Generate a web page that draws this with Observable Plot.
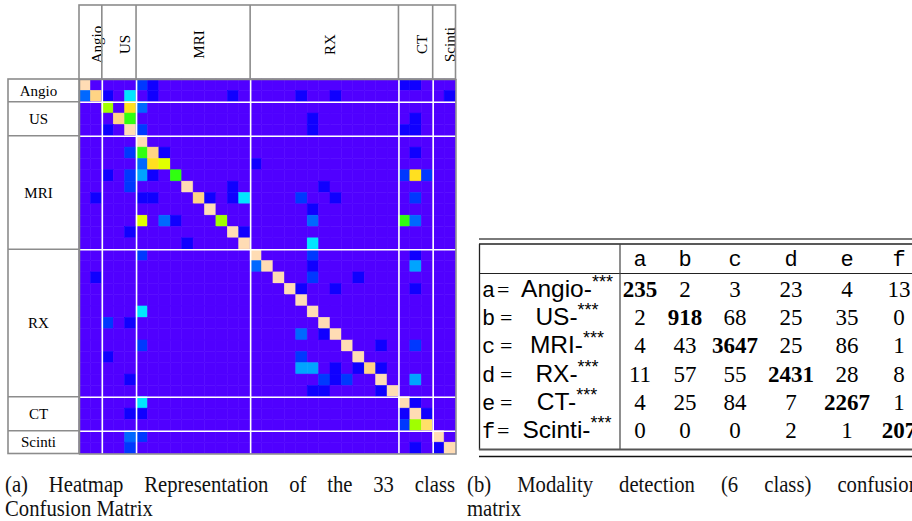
<!DOCTYPE html>
<html><head><meta charset="utf-8">
<script src="https://cdn.jsdelivr.net/npm/d3@7"></script>
<script src="https://cdn.jsdelivr.net/npm/@observablehq/plot@0.6"></script>
<style>
html,body{margin:0;padding:0;background:#fff;}
#fig{position:relative;width:912px;height:521px;overflow:hidden;}
</style></head><body><div id="fig"></div>
<script>
// ---- data ----
const groups = ["Angio","US","MRI","RX","CT","Scinti"];
const groupSizes = [2,3,10,13,3,2];
const levels = [0,1,2,3,4,5,6,7,7.5,8,8.5,9,10];
const levelColors = ["#5000ff","#1000ff","#0038ff","#0068ff","#00a4ff","#00e6ff","#30ff10","#a0ff00","#e0ff00","#ffe020","#ffe068","#ffd484","#ffdcb4"];
// [row, col, level] for non-background cells of the 33x33 heatmap
const cells = [
[0,0,10],[0,5,2],[0,6,1],[0,28,1],[0,29,1],
[1,0,3],[1,1,9],[1,2,1],[1,4,5],[1,6,1],[1,13,1],[1,19,1],[1,22,1],[1,32,1],
[2,2,7],[2,4,8],[2,5,3],
[3,3,9],[3,4,6],[3,20,1],[3,29,1],
[4,2,1],[4,4,10],[4,5,2],[4,20,1],[4,28,1],[4,29,1],
[5,5,10],
[6,4,2],[6,5,6],[6,6,9],[6,7,1],[6,29,1],
[7,5,3],[7,6,8],[7,7,7.5],[7,15,1],
[8,2,1],[8,4,2],[8,5,4],[8,6,1],[8,8,6],[8,28,2],[8,29,8],[8,30,2],
[9,4,2],[9,9,10],[9,13,1],[9,21,1],
[10,1,1],[10,5,1],[10,6,1],[10,10,9],[10,11,1],[10,13,1],[10,14,5],[10,19,2],[10,22,1],[10,29,2],
[11,11,10],[11,20,1],
[12,5,7.5],[12,7,3],[12,8,1],[12,12,7],[12,20,3],[12,28,6],[12,29,3],
[13,4,1],[13,13,10],[13,14,1],
[14,9,1],[14,14,10],[14,20,5],
[15,5,2],[15,15,10],[15,20,2],[15,29,1],
[16,15,3],[16,16,10],[16,20,1],[16,29,4],
[17,1,1],[17,17,10],[17,20,2],[17,24,1],
[18,18,10],[18,19,1],[18,22,1],[18,29,1],
[19,19,10],
[20,5,5],[20,20,10],
[21,2,2],[21,4,1],[21,21,10],
[22,19,3],[22,21,1],[22,22,10],
[23,5,2],[23,23,10],[23,26,1],[23,29,2],
[24,2,1],[24,19,2],[24,24,10],
[25,19,4],[25,20,4],[25,22,1],[25,24,1],[25,25,9],[25,26,1],
[26,4,1],[26,21,2],[26,22,1],[26,23,2],[26,26,10],[26,29,4],
[27,20,1],[27,21,1],[27,26,1],[27,27,10],
[28,5,5],[28,28,10],[28,29,1],
[29,4,1],[29,5,1],[29,28,1],[29,29,10],[29,30,1],
[30,28,2],[30,29,7],[30,30,8.5],
[31,4,3],[31,5,2],[31,31,10],
[32,4,2],[32,29,1],[32,31,1],[32,32,10]
];
const tableCols = ["a","b","c","d","e","f"];
const tableRows = ["Angio","US","MRI","RX","CT","Scinti"];
const tableValues = [
[235,2,3,23,4,13],
[2,918,68,25,35,0],
[4,43,3647,25,86,1],
[11,57,55,2431,28,8],
[4,25,84,7,2267,1],
[0,0,0,2,1,207]
];
const captionA = ["(a) Heatmap Representation of the 33 class","Confusion Matrix"];
const captionB = ["(b) Modality detection (6 class) confusion","matrix"];

// ---- build ----
const n = d3.sum(groupSizes);
const starts = Array.from(d3.cumsum([0, ...groupSizes]));
const groupData = groups.map((g,i)=>({name:g, start:starts[i], end:starts[i+1], mid:(starts[i]+starts[i+1])/2}));
const lookup = new Map(cells.map(([r,c,v])=>[r+","+c, v]));
const grid = [];
for (let r=0;r<n;r++) for (let c=0;c<n;c++) grid.push({r, c, v: lookup.get(r+","+c) ?? 0});

const SERIF = "'Liberation Serif','Times New Roman',serif";
const SANS = "'Liberation Sans',Arial,sans-serif";
const MONO = "'Liberation Mono','Courier New',monospace";
const GRAY = "#8c8c8c";

const plot = Plot.plot({
  width: 912, height: 521,
  marginLeft: 79, marginRight: 912-455.5, marginTop: 79, marginBottom: 521-453.5,
  x: {domain:[0,n], axis:null},
  y: {domain:[0,n], reverse:true, axis:null},
  color: {type:"ordinal", domain: levels, range: levelColors},
  style: {fontFamily: SERIF, background:"white", overflow:"visible"},
  marks: [
    Plot.rect(grid, {x1:"c", x2:d=>d.c+1, y1:"r", y2:d=>d.r+1, fill:"v", stroke:"v", strokeWidth:0.5}),
    Plot.ruleX(starts.slice(1,-1), {stroke:"white", strokeWidth:1.6}),
    Plot.ruleY(starts.slice(1,-1), {stroke:"white", strokeWidth:1.6}),
    Plot.frame({stroke:GRAY, strokeWidth:1.5}),
    Plot.text(groupData, {x:"mid", text:"name", frameAnchor:"top", dy:-35, rotate:-90, fontSize:15, fill:"black"}),
    Plot.text(groupData, {y:"mid", text:"name", frameAnchor:"left", dx:-41, textAnchor:"middle", fontSize:15, fill:"black"})
  ]
});
document.getElementById("fig").appendChild(plot);

const svg = d3.select(plot);
const xs = plot.scale("x"), ys = plot.scale("y");
const X0 = xs.apply(0), X1 = xs.apply(n), Y0 = ys.apply(0), Y1 = ys.apply(n);
const g = svg.append("g").attr("fill","none").attr("stroke",GRAY).attr("stroke-width",1.6);
// column header box
g.append("rect").attr("x",X0).attr("y",5).attr("width",X1-X0).attr("height",Y0-5);
starts.slice(1,-1).forEach(s=>g.append("line").attr("x1",xs.apply(s)).attr("x2",xs.apply(s)).attr("y1",5).attr("y2",Y0));
// row header box
g.append("rect").attr("x",8).attr("y",Y0).attr("width",X0-8).attr("height",Y1-Y0);
starts.slice(1,-1).forEach(s=>g.append("line").attr("y1",ys.apply(s)).attr("y2",ys.apply(s)).attr("x1",8).attr("x2",X0));

// ---- table (b) ----
const T = svg.append("g").attr("text-anchor","start").attr("fill","#000");
const colX = [640,685,735,791,847,899];
const rowBase = [296.5,325,353.3,381.6,410,438.3];
const line = (x1,y1,x2,y2,c,w)=>T.append("line").attr("x1",x1).attr("y1",y1).attr("x2",x2).attr("y2",y2).attr("stroke",c).attr("stroke-width",w);
line(479,239,912,239,"#7a7a7a",2);
line(479,244,912,244,"#222",1.5);
line(479,273.5,912,273.5,"#222",1.2);
line(479.5,244,479.5,450,"#222",1.3);
line(620,244,620,450,"#444",1.2);
line(479,449.5,912,449.5,"#555",2);
line(479,456.5,912,456.5,"#111",1.5);
tableCols.forEach((c,j)=>T.append("text").attr("x",colX[j]).attr("y",266).attr("text-anchor","middle")
  .attr("font-family",MONO).attr("font-size",22).text(c));
tableRows.forEach((name,i)=>{
  const y = rowBase[i];
  T.append("text").attr("x",482).attr("y",y).attr("text-anchor","start").attr("font-family",MONO).attr("font-size",22).text(tableCols[i]);
  T.append("text").attr("x",i===0||i===5?497:500).attr("y",y).attr("text-anchor","start").attr("font-family",SERIF).attr("font-size",22).text("=");
  const t = T.append("text").attr("x",567).attr("y",y).attr("text-anchor","middle").attr("font-family",SANS).attr("font-size",24.5);
  t.append("tspan").text(name+"-");
  t.append("tspan").attr("dy",-9).attr("font-size",18).text("***");
  tableValues[i].forEach((v,j)=>T.append("text").attr("x",colX[j]).attr("y",y).attr("text-anchor","middle")
    .attr("font-family",SERIF).attr("font-size",23).attr("font-weight",i===j?"bold":"normal").text(v));
});

// ---- captions ----
const SX = 0.9;
function capLine(str, x, y, width) {
  const t = svg.append("text").attr("text-anchor","start").attr("font-family",SERIF).attr("font-size",23).attr("fill","#111")
    .attr("transform",`translate(${x},${y}) scale(${SX},1)`).text(str);
  if (width) {
    const w = t.node().getComputedTextLength();
    const sp = (str.match(/ /g)||[]).length;
    if (sp) t.style("word-spacing", ((width/SX - w)/sp) + "px");
  }
}
capLine(captionA[0],5,492,450);
capLine(captionA[1],5,515.5,0);
capLine(captionB[0],467,492,452);
capLine(captionB[1],467,515.5,0);
</script></body></html>
